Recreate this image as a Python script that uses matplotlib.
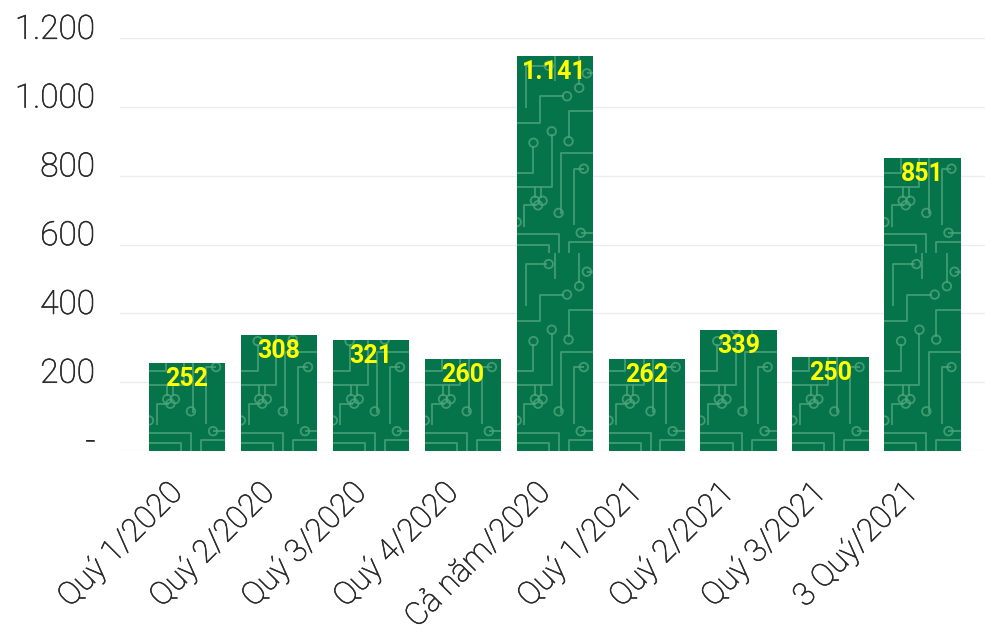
import matplotlib
matplotlib.use("Agg")
import matplotlib.pyplot as plt
import matplotlib.patheffects as pe
from matplotlib.ticker import FuncFormatter
from matplotlib.transforms import ScaledTranslation

# chart data
categories = ["Quý 1/2020", "Quý 2/2020", "Quý 3/2020", "Quý 4/2020", "Cả năm/2020",
              "Quý 1/2021", "Quý 2/2021", "Quý 3/2021", "3 Quý/2021"]
# bar heights as drawn in the picture
bar_heights = [255, 337, 323, 267, 1148, 267, 352, 274, 852]
# numbers printed on the bars
bar_labels = [252, 308, 321, 260, 1141, 262, 339, 250, 851]
y_ticks = [0, 200, 400, 600, 800, 1000, 1200]

BAR_GREEN = "#06744a"
TRACE_GREEN = "#4fa57c"
LABEL_YELLOW = "#ffff00"
TEXT_GREY = "#2a2a2a"

# circuit board texture, in bar-width units (u across, v up from the bar bottom)
TILE_H = 2.6
traces = [
    [(0.0, 0.10), (0.42, 0.10), (0.42, 0.0)],
    [(0.0, 0.24), (0.55, 0.24), (0.55, 0.0)],
    [(0.68, 0.0), (0.68, 0.14), (1.0, 0.14)],
    [(1.0, 0.26), (0.84, 0.26)],
    [(0.10, 0.34), (0.10, 0.62), (0.26, 0.62)],
    [(0.24, 0.72), (0.24, 0.86)],
    [(0.32, 0.72), (0.32, 0.86)],
    [(0.0, 0.86), (0.46, 0.86), (0.46, 1.55)],
    [(0.58, 0.50), (0.58, 1.30), (1.0, 1.30)],
    [(0.75, 0.36), (0.75, 1.10), (0.88, 1.10)],
    [(0.0, 1.05), (0.22, 1.05), (0.22, 1.40)],
    [(0.0, 1.70), (0.30, 1.70), (0.30, 2.05), (0.62, 2.05)],
    [(0.12, 1.90), (0.12, 2.45), (0.40, 2.45)],
    [(0.68, 1.50), (0.68, 1.85), (1.0, 1.85)],
    [(0.82, 2.20), (0.82, 2.60)],
    [(1.0, 2.35), (0.92, 2.35)],
    [(0.50, 2.25), (0.50, 2.60)],
]
pads = [(0.55, 0.52), (0.24, 0.68), (0.34, 0.68), (0.84, 0.26), (0.88, 1.10),
        (0.28, 0.62), (0.22, 1.44), (0.46, 1.59), (0.66, 2.05), (0.42, 2.45),
        (0.68, 1.46), (0.92, 2.35), (0.0, 0.40), (0.82, 2.16)]

plt.rcParams["font.family"] = ["Roboto", "DejaVu Sans"]

fig = plt.figure(figsize=(9.85, 6.42), dpi=100)
ax = fig.add_axes([120 / 985, 1 - 451 / 642, 865 / 985, (451 - 38.3) / 642])

x = list(range(len(categories)))
bars = ax.bar(x, bar_heights, width=0.83, color=BAR_GREEN, zorder=2)

ax.set_xlim(-0.73, len(categories) - 1 + 0.68)
ax.set_ylim(0, 1200)

# pixel scales, needed to keep the texture square
px_x = ax.bbox.width / (ax.get_xlim()[1] - ax.get_xlim()[0])
px_y = ax.bbox.height / 1200

for rect in bars:
    x0 = rect.get_x()
    w = rect.get_width()
    v_scale = w * px_x / px_y
    top = rect.get_height()
    rep = 0
    while rep * TILE_H * v_scale < top:
        base = rep * TILE_H
        for tr in traces:
            xs = [x0 + u * w for u, v in tr]
            ys = [(v + base) * v_scale for u, v in tr]
            ln, = ax.plot(xs, ys, color=TRACE_GREEN, lw=1.3, alpha=0.8, zorder=3,
                          solid_capstyle="butt")
            ln.set_clip_path(rect)
        px = [x0 + u * w for u, v in pads]
        py = [(v + base) * v_scale for u, v in pads]
        sc = ax.scatter(px, py, s=38, facecolors="none", edgecolors=TRACE_GREEN,
                        linewidths=1.3, alpha=0.8, zorder=3)
        sc.set_clip_path(rect)
        rep += 1

def dot_thousands(n):
    return f"{n:,}".replace(",", ".")

for rect, lab in zip(bars, bar_labels):
    ax.annotate(dot_thousands(lab), (rect.get_x() + rect.get_width() / 2, rect.get_height()),
                xytext=(0, -16), textcoords="offset pixels", ha="center", va="center",
                color=LABEL_YELLOW, fontsize=18, fontweight="bold", zorder=5)

# light weight, thickened a touch
thicken = [pe.withStroke(linewidth=0.45, foreground=TEXT_GREY)]

ax.set_yticks(y_ticks)
ax.yaxis.set_major_formatter(FuncFormatter(lambda v, p: "-" if v == 0 else dot_thousands(int(v))))
ax.grid(axis="y", color="#ececec", lw=1.0, zorder=0)
ax.tick_params(axis="y", length=0, pad=18, labelsize=24, labelcolor=TEXT_GREY)
y_shift = ScaledTranslation(0, 0.12, fig.dpi_scale_trans)
for lbl in ax.get_yticklabels():
    lbl.set_fontweight("light")
    lbl.set_path_effects(thicken)
    lbl.set_transform(lbl.get_transform() + y_shift)

ax.set_xticks(x)
ax.set_xticklabels(categories, rotation=45, ha="right", rotation_mode="anchor",
                   fontsize=23, fontweight="light", color=TEXT_GREY)
ax.tick_params(axis="x", length=0, pad=24)
x_shift = ScaledTranslation(-0.19, 0.07, fig.dpi_scale_trans)
for lbl in ax.get_xticklabels():
    lbl.set_path_effects(thicken)
    lbl.set_transform(lbl.get_transform() + x_shift)

for s in ax.spines.values():
    s.set_visible(False)

fig.savefig("out.png", dpi=100)
